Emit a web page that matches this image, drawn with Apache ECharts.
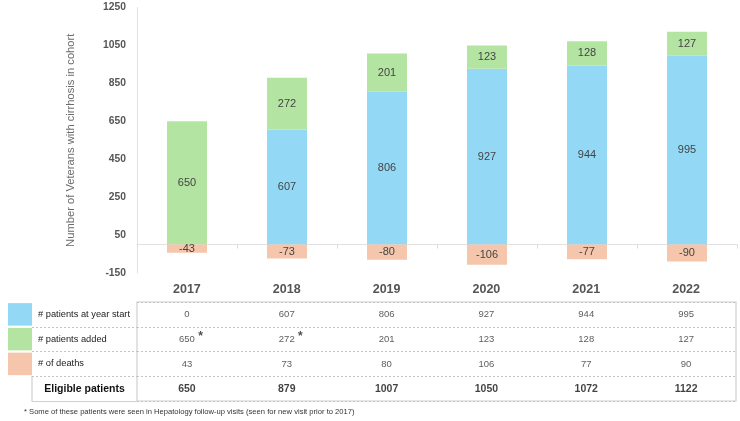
<!DOCTYPE html>
<html><head><meta charset="utf-8">
<script src="https://cdn.jsdelivr.net/npm/echarts@6/dist/echarts.min.js"></script>
<style>html,body{margin:0;padding:0;background:#fff}#c{width:740px;height:421px}</style>
</head><body><div id="c"></div>
<script>
// ---- data ----
const years = ['2017', '2018', '2019', '2020', '2021', '2022'];
const startPatients = [0, 607, 806, 927, 944, 995];
const addedPatients = [650, 272, 201, 123, 128, 127];
const deaths = [43, 73, 80, 106, 77, 90];
const eligible = [650, 879, 1007, 1050, 1072, 1122];
const addedNote = [true, true, false, false, false, false];
const rowLabels = ['# patients at year start', '# patients added', '# of deaths', 'Eligible patients'];
const yMin = -150, yMax = 1250, yStep = 200;
const yName = 'Number of Veterans with cirrhosis in cohort';
const footnote = '* Some of these patients were seen in Hepatology follow-up visits (seen for new visit prior to 2017)';

// ---- style ----
const C_BLUE = '#93d9f6', C_GREEN = '#b4e4a2', C_SALMON = '#f5c6ab';
const FONT = 'Liberation Sans, Arial, sans-serif';

const chart = echarts.init(document.getElementById('c'));

const tableRows = [startPatients, addedPatients, deaths, eligible];
const tableData = [];
years.forEach((y, i) => {
  tableRows.forEach((row, r) => {
    let txt;
    if (r === 3) txt = '{b|' + row[i] + '}';
    else if (r === 1 && addedNote[i]) txt = '{pad|}{n|' + row[i] + '}{s|*}';
    else txt = '{n|' + row[i] + '}';
    tableData.push({ value: [i, r], txt: txt });
  });
});

const barLabel = {
  show: true, position: 'inside', color: '#444', fontSize: 11, fontFamily: FONT,
  formatter: p => (p.value === 0 ? '' : String(p.value))
};

const option = {
  animation: false,
  textStyle: { fontFamily: FONT },
  title: {
    text: footnote, left: 19, top: 403,
    textStyle: { fontSize: 7.6, fontWeight: 'normal', color: '#333', fontFamily: FONT }
  },
  grid: [
    { left: 137, top: 7.5, width: 600, height: 265.5 },
    { left: 137, top: 302, width: 599, height: 99, show: true, borderColor: '#cfcfcf', borderWidth: 1.2 },
    { left: 32, top: 326.75, width: 105, height: 74.25 }
  ],
  xAxis: [
    { gridIndex: 0, type: 'category', data: years,
      axisLine: { onZero: true, lineStyle: { color: '#e2e2e2' } },
      axisTick: { show: true, length: 4, lineStyle: { color: '#dcdcdc' } },
      axisLabel: { show: false } },
    { gridIndex: 1, type: 'category', data: years, position: 'top',
      axisLine: { show: false }, axisTick: { show: false },
      axisLabel: { margin: 6, fontSize: 12.5, fontWeight: 'bold', color: '#555', fontFamily: FONT } },
    { gridIndex: 2, type: 'value', min: 0, max: 1,
      axisLine: { show: true, lineStyle: { color: '#cfcfcf', width: 1.2 } },
      axisTick: { show: false }, axisLabel: { show: false }, splitLine: { show: false } }
  ],
  yAxis: [
    { gridIndex: 0, type: 'value', min: yMin, max: yMax, interval: yStep,
      axisLine: { show: true, lineStyle: { color: '#e2e2e2' } },
      axisTick: { show: false }, splitLine: { show: false },
      axisLabel: { margin: 11, fontSize: 10.3, fontWeight: 'bold', color: '#555', fontFamily: FONT,
        formatter: v => String(v) },
      name: yName, nameLocation: 'middle', nameGap: 61,
      nameTextStyle: { fontSize: 11.2, color: '#6b6b6b', fontFamily: FONT } },
    { gridIndex: 1, type: 'category', data: rowLabels, inverse: true,
      axisLine: { show: false }, axisTick: { show: false },
      splitLine: { show: true, lineStyle: { type: [2, 2], color: '#c4c4c4' } },
      axisLabel: {
        margin: 129, align: 'left',
        formatter: (v, idx) => idx === 3 ? '{sp|}{e|' + v + '}' : '{sq' + idx + '|}{t|' + v + '}',
        rich: {
          sq0: { width: 24, height: 22.5, backgroundColor: C_BLUE },
          sq1: { width: 24, height: 22.5, backgroundColor: C_GREEN },
          sq2: { width: 24, height: 22.5, backgroundColor: C_SALMON },
          t: { fontSize: 9.3, color: '#222', padding: [0, 0, 0, 6], fontFamily: FONT },
          sp: { width: 24 },
          e: { width: 105, align: 'center', fontSize: 10.5, fontWeight: 'bold', color: '#111', fontFamily: FONT }
        }
      } },
    { gridIndex: 2, type: 'category', data: ['a', 'b', 'c'],
      axisLine: { show: false }, axisTick: { show: false }, axisLabel: { show: false },
      splitLine: { show: true, lineStyle: { type: [2, 2], color: '#c4c4c4' } } }
  ],
  graphic: [
    { type: 'line', shape: { x1: 32, y1: 375.8, x2: 32, y2: 401 }, style: { stroke: '#cfcfcf', lineWidth: 1.2 } }
  ],
  series: [
    { name: '# patients at year start', type: 'bar', stack: 'a', barWidth: 40,
      xAxisIndex: 0, yAxisIndex: 0, data: startPatients,
      itemStyle: { color: C_BLUE }, label: barLabel },
    { name: '# patients added', type: 'bar', stack: 'a', barWidth: 40,
      xAxisIndex: 0, yAxisIndex: 0, data: addedPatients,
      itemStyle: { color: C_GREEN }, label: barLabel },
    { name: '# of deaths', type: 'bar', stack: 'a', barWidth: 40,
      xAxisIndex: 0, yAxisIndex: 0, data: deaths.map(d => -d),
      itemStyle: { color: C_SALMON }, label: barLabel },
    { type: 'scatter', xAxisIndex: 1, yAxisIndex: 1, symbolSize: 0, silent: true,
      data: tableData,
      label: {
        show: true, position: 'inside',
        formatter: p => p.data.txt,
        rich: {
          n: { fontSize: 9.5, color: '#333', fontFamily: FONT },
          b: { fontSize: 10.5, fontWeight: 'bold', color: '#111', fontFamily: FONT },
          pad: { width: 8 },
          s: { width: 8, fontSize: 12, fontWeight: 'bold', color: '#222', align: 'right', verticalAlign: 'top', padding: [0, 0, 5, 0] }
        }
      } }
  ]
};
chart.setOption(option);
</script>
</body></html>
